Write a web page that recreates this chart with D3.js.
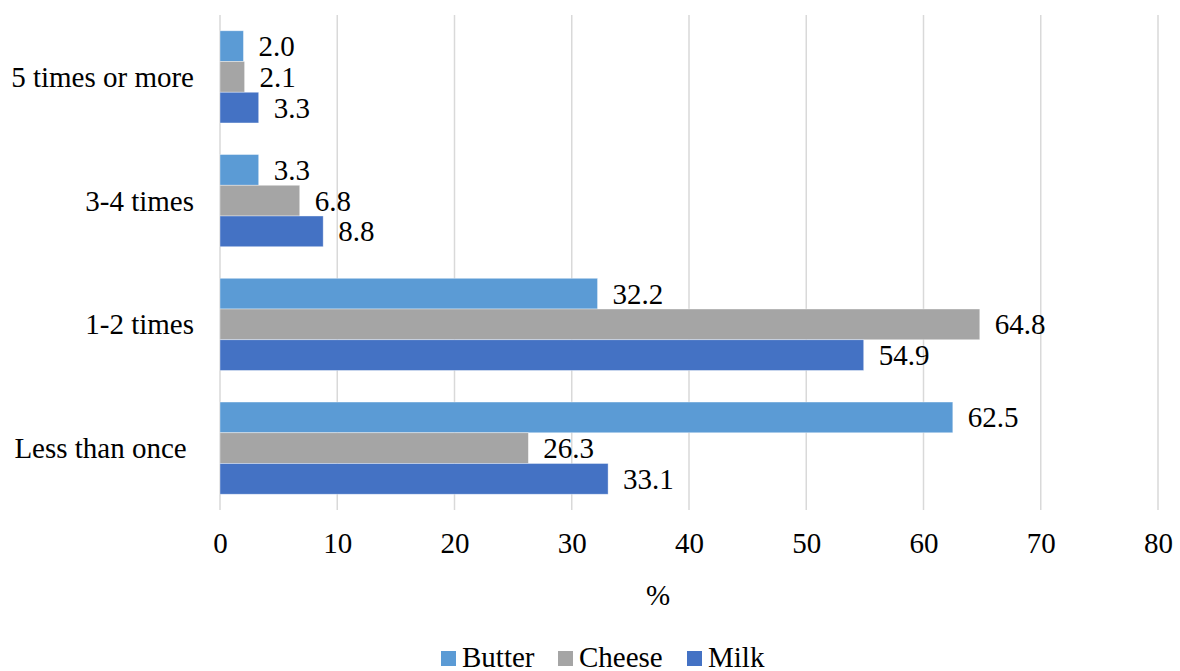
<!DOCTYPE html>
<html>
<head>
<meta charset="utf-8">
<script src="https://cdn.jsdelivr.net/npm/d3@7"></script>
</head>
<body style="margin:0">
<svg id="chart" width="1180" height="671"></svg>
<script>
// Frequency categories, top to bottom
const categories = ["5 times or more", "3-4 times", "1-2 times", "Less than once"];
const categoryLabels = ["5 times or more", "3-4 times", "1-2 times", "Less than once "];
const seriesNames = ["Butter", "Cheese", "Milk"];
const seriesColors = ["#5B9BD5", "#A5A5A5", "#4472C4"];
// Percentages per category, in category order
const butter = [2.0, 3.3, 32.2, 62.5];
const cheese = [2.1, 6.8, 64.8, 26.3];
const milk   = [3.3, 8.8, 54.9, 33.1];
const xTicks = [0, 10, 20, 30, 40, 50, 60, 70, 80];
const xTitle = "%";

const seriesValues = [butter, cheese, milk];
const FS = 29;

// Shared text styling for every label
function serif(sel) {
  return sel.style("font-family", '"Liberation Serif"').attr("font-size", FS).attr("fill", "#000");
}

const svg = d3.select("#chart");
const plot = { left: 220, right: 1158, top: 15, bottom: 510 };

const x = d3.scaleLinear().domain([0, 80]).range([plot.left, plot.right]);
const gap = 0.255;
const y = d3.scaleBand().domain(categories).range([plot.top, plot.bottom])
  .paddingInner(gap).paddingOuter(gap / 2);
const ySub = d3.scaleBand().domain(seriesNames).range([0, y.bandwidth()]);

// Vertical gridlines
svg.append("g").selectAll("line").data(xTicks).join("line")
  .attr("x1", d => x(d)).attr("x2", d => x(d))
  .attr("y1", plot.top).attr("y2", plot.bottom)
  .attr("stroke", "#d9d9d9").attr("stroke-width", 1.5);

// Bars and value labels
const rows = [];
categories.forEach((c, i) => {
  seriesNames.forEach((s, j) => {
    rows.push({ cat: c, series: s, value: seriesValues[j][i], color: seriesColors[j] });
  });
});

const bars = svg.append("g");
bars.selectAll("rect").data(rows).join("rect")
  .attr("x", x(0))
  .attr("y", d => y(d.cat) + ySub(d.series))
  .attr("width", d => x(d.value) - x(0))
  .attr("height", ySub.bandwidth())
  .attr("fill", d => d.color)
  .attr("stroke", "#ffffff").attr("stroke-opacity", 0.5).attr("stroke-width", 0.75);

bars.selectAll("text").data(rows).join("text")
  .attr("x", d => x(d.value) + 15)
  .attr("y", d => y(d.cat) + ySub(d.series) + ySub.bandwidth() / 2 + 10)
  .call(serif)
  .text(d => d.value.toFixed(1));

// Category labels
svg.append("g").selectAll("text").data(categories).join("text")
  .attr("x", 194)
  .attr("y", d => y(d) + y.bandwidth() / 2 + 10)
  .attr("text-anchor", "end")
  .attr("xml:space", "preserve")
  .call(serif)
  .text((d, i) => categoryLabels[i]);

// X axis tick labels
const xAxis = d3.axisBottom(x).tickValues(xTicks).tickSize(0).tickPadding(0).tickFormat(d3.format("d"));
const gx = svg.append("g").attr("transform", "translate(0, 553)").call(xAxis);
gx.attr("font-family", null).attr("font-size", null);
gx.select(".domain").remove();
gx.selectAll("text").attr("dy", null).attr("y", 0).call(serif);

// Axis title
svg.append("text")
  .attr("x", 658).attr("y", 605)
  .attr("text-anchor", "middle")
  .call(serif)
  .text(xTitle);

// Legend
const legendX = [441, 558, 687];
const legend = svg.append("g").selectAll("g").data(seriesNames).join("g")
  .attr("transform", (d, i) => `translate(${legendX[i]}, 658)`);
legend.append("rect")
  .attr("x", 0).attr("y", -7).attr("width", 15).attr("height", 15)
  .attr("fill", (d, i) => seriesColors[i]);
legend.append("text")
  .attr("x", 21).attr("y", 9)
  .call(serif)
  .text(d => d);
</script>
</body>
</html>
